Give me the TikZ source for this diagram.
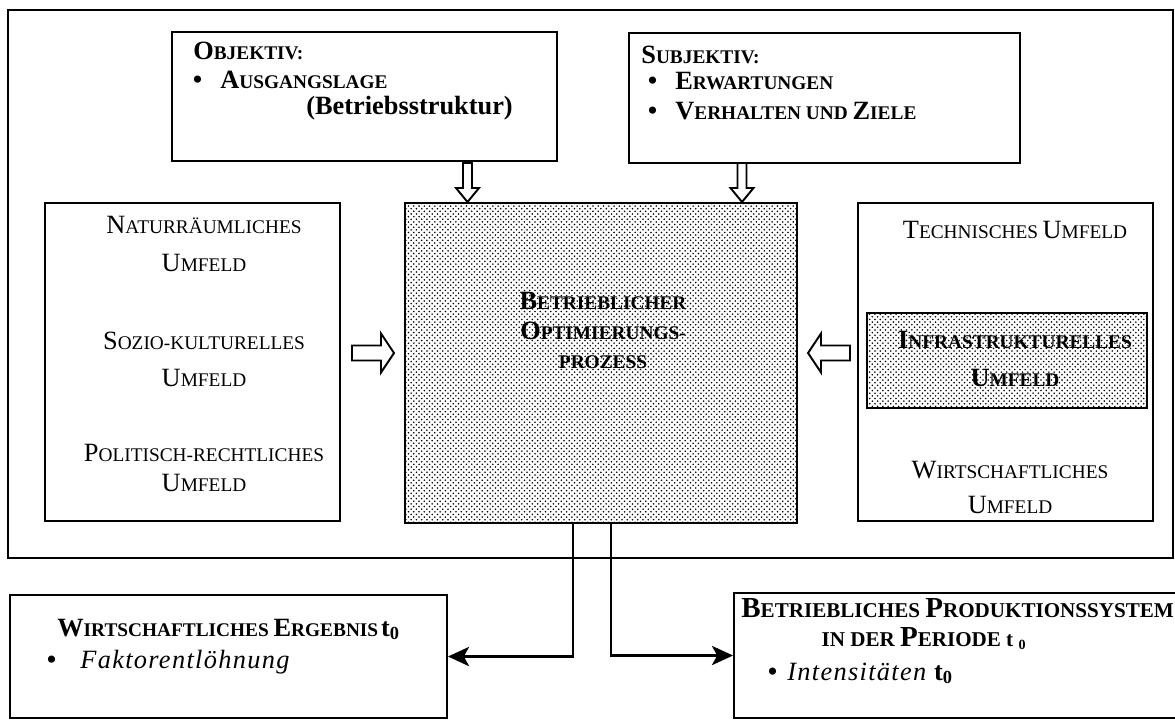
\documentclass[tikz,border=0pt]{standalone}
\usepackage{fontspec}
\setmainfont{Liberation Serif}
\usetikzlibrary{arrows.meta,patterns}

% Kapitaelchen von Hand: grosser Anfangsbuchstabe, kleiner Rest
\newcommand{\kap}[2]{{\fontsize{15}{15}\selectfont #1}{\fontsize{11}{11}\selectfont #2}}
\newcommand{\kapgross}[2]{{\fontsize{16.5}{16.5}\selectfont #1}{\fontsize{12}{12}\selectfont #2}}
\newcommand{\klein}{\fontsize{11}{11}\selectfont}
\newcommand{\kursiv}{\fontsize{15}{15}\selectfont\itshape\addfontfeature{LetterSpace=5}}
\newcommand{\punkt}{{\fontsize{17}{17}\selectfont\upshape •}}

\begin{document}
\begin{tikzpicture}[x=0.02cm,y=-0.02cm,
		kasten/.style={draw=black,line width=1.2pt,inner sep=0pt},
		punkte/.style={pattern=crosshatch dots,pattern color=black},
		zeile/.style={inner sep=0pt,anchor=base},
		zeilel/.style={inner sep=0pt,anchor=base west},
		pfeil/.style={line width=1.2pt,-{Stealth[length=12pt,width=11pt,inset=3pt]}},
		blockpfeil/.style={draw=black,line width=1.1pt,fill=white,line join=miter}]
		\useasboundingbox (0,0) rectangle (1175,720);

		\node[kasten,minimum width=23.3cm,minimum height=10.96cm] (rahmen) at (590.5,284) {};

		\node[kasten,minimum width=7.7cm,minimum height=2.58cm] (objektiv) at (364.5,96.5) {};
		\node[kasten,minimum width=7.82cm,minimum height=2.6cm] (subjektiv) at (824.5,98) {};
		\node[kasten,punkte,minimum width=7.84cm,minimum height=6.4cm] (optimierung) at (601,363) {};
		\node[kasten,minimum width=5.9cm,minimum height=6.36cm] (naturraum) at (192.5,362) {};
		\node[kasten,minimum width=5.9cm,minimum height=6.36cm] (technik) at (1005.5,362) {};
		\node[kasten,punkte,minimum width=5.6cm,minimum height=1.9cm] (infra) at (1007,360.5) {};
		\node[kasten,minimum width=8.74cm,minimum height=2.46cm] (ergebnis) at (228.5,656.5) {};
		\node[kasten,minimum width=9.32cm,minimum height=2.5cm] (produktion) at (967,655.5) {};

		% Objektiv
		\node[zeilel] (objtitel) at (193,59) {\bfseries\kap{O}{BJEKTIV:}};
		\node[zeilel] (objpunkt) at (192,89) {\punkt};
		\node[zeilel] (ausgang) at (220,88) {\bfseries\kap{A}{USGANGSLAGE}};
		\node[zeilel] (struktur) at (306,114) {\bfseries\fontsize{15}{15}\selectfont (Betriebsstruktur)};

		% Subjektiv
		\node[zeilel] (subtitel) at (641,63) {\bfseries\kap{S}{UBJEKTIV:}};
		\node[zeilel] (subpunkta) at (647,90) {\punkt};
		\node[zeilel] (erwartung) at (675,89) {\bfseries\kap{E}{RWARTUNGEN}};
		\node[zeilel] (subpunktb) at (647,120) {\punkt};
		\node[zeilel] (verhalten) at (675,119) {\bfseries\kap{V}{ERHALTEN UND }\kap{Z}{IELE}};

		% Mitte
		\node[zeile] (mittea) at (603,309) {\bfseries\kap{B}{ETRIEBLICHER}};
		\node[zeile] (mitteb) at (603,339) {\bfseries\kap{O}{PTIMIERUNGS-}};
		\node[zeile] (mittec) at (603,368) {\bfseries\klein PROZESS};

		% links
		\node[zeile] (natura) at (204,233) {\kap{N}{ATURRÄUMLICHES}};
		\node[zeile] (naturb) at (204,271) {\kap{U}{MFELD}};
		\node[zeile] (sozioa) at (204,349) {\kap{S}{OZIO-KULTURELLES}};
		\node[zeile] (soziob) at (204,386) {\kap{U}{MFELD}};
		\node[zeile] (politika) at (204,461) {\kap{P}{OLITISCH-RECHTLICHES}};
		\node[zeile] (politikb) at (204,491) {\kap{U}{MFELD}};

		% rechts
		\node[zeile] (techna) at (1015,238) {\kap{T}{ECHNISCHES} \kap{U}{MFELD}};
		\node[zeile] (infraa) at (1015,348) {\bfseries\kap{I}{NFRASTRUKTURELLES}};
		\node[zeile] (infrab) at (1015,386) {\bfseries\kap{U}{MFELD}};
		\node[zeile] (wirta) at (1010,478) {\kap{W}{IRTSCHAFTLICHES}};
		\node[zeile] (wirtb) at (1010,513) {\kap{U}{MFELD}};

		% unten
		\node[zeilel] (ergtitel) at (57,636) {\bfseries\kap{W}{IRTSCHAFTLICHES }\kap{E}{RGEBNIS}\,{\fontsize{15}{15}\selectfont t\textsubscript{0}}};
		\node[zeilel] (ergpunkt) at (46,669) {\punkt};
		\node[zeilel] (faktor) at (80,668) {\kursiv Faktorentlöhnung};
		\node[zeilel] (prodtitela) at (741,617) {\bfseries\kapgross{B}{ETRIEBLICHES }\kapgross{P}{RODUKTIONSSYSTEM}};
		\node[zeile] (prodtitelb) at (924,646) {\bfseries\fontsize{12}{12}\selectfont IN DER \kapgross{P}{ERIODE} t \textsubscript{0}};
		\node[zeilel] (prodpunkt) at (767,681) {\punkt};
		\node[zeilel] (intens) at (787,680) {\kursiv Intensitäten {\upshape\bfseries t\textsubscript{0}}};

		% Blockpfeile
		\draw[blockpfeil] (463,163) -- (472,163) -- (472,188) -- (479,188) -- (467.5,202) -- (456,188) -- (463,188) -- cycle;
		\draw[blockpfeil] (737.5,163) -- (746.5,163) -- (746.5,188) -- (753.5,188) -- (742,202) -- (730.5,188) -- (737.5,188) -- cycle;
		\draw[blockpfeil] (352,345.5) -- (381,345.5) -- (381,333.5) -- (394,353) -- (381,372.5) -- (381,360.5) -- (352,360.5) -- cycle;
		\draw[blockpfeil] (850,345.5) -- (821,345.5) -- (821,333.5) -- (808,353) -- (821,372.5) -- (821,360.5) -- (850,360.5) -- cycle;

		\draw[pfeil] ([xshift=-0.56cm]optimierung.south) |- (ergebnis);
		\draw[pfeil] ([xshift=0.2cm]optimierung.south) |- (produktion);

	\end{tikzpicture}
\end{document}
